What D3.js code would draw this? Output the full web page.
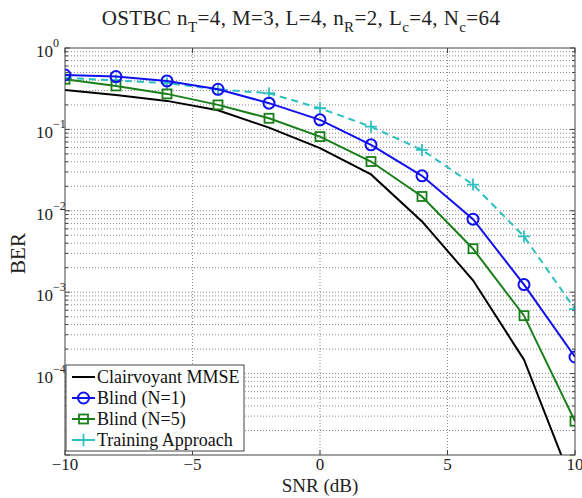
<!DOCTYPE html>
<html>
<head>
<meta charset="utf-8">
<script src="https://cdn.jsdelivr.net/npm/d3@7"></script>
<style>
  html, body { margin: 0; padding: 0; background: #fff; }
  svg { display: block; font-family: 'Liberation Serif', 'Times New Roman', serif; }
</style>
</head>
<body>
<div id="chart"></div>
<script>
// ---- data ----
const snr = [-10, -8, -6, -4, -2, 0, 2, 4, 6, 8, 10];
const clairvoyant = [0.305, 0.265, 0.224, 0.172, 0.105, 0.059, 0.028, 0.0074, 0.0014, 0.000148, 0.0000037];
const blind1 = [0.466, 0.445, 0.394, 0.311, 0.21, 0.131, 0.0646, 0.0269, 0.0079, 0.00124, 0.00016];
const blind5 = [0.413, 0.342, 0.273, 0.2, 0.137, 0.0816, 0.0403, 0.015, 0.00342, 0.000515, 0.000026];
const training = [0.43, 0.40, 0.37, 0.31, 0.278, 0.182, 0.108, 0.056, 0.021, 0.00484, 0.00062];
const xTicks = [-10, -5, 0, 5, 10];
const yExps = [0, -1, -2, -3, -4];
const seriesNames = ['Clairvoyant MMSE', 'Blind (N=1)', 'Blind (N=5)', 'Training Approach'];

const W = 582, H = 498;
const m = { left: 65, right: 7, top: 48, bottom: 43 };
const pw = W - m.left - m.right, ph = H - m.top - m.bottom;

const svg = d3.select('#chart').append('svg')
  .attr('width', W).attr('height', H);

const x = d3.scaleLinear().domain([-10, 10]).range([0, pw]);
const y = d3.scaleLog().domain([1e-5, 1]).range([ph, 0]);

const g = svg.append('g').attr('transform', `translate(${m.left},${m.top})`);

g.append('clipPath').attr('id', 'plotclip')
  .append('rect').attr('width', pw).attr('height', ph);

// ---- grid ----
const gridColor = '#8a8a8a';
const minorY = [];
for (let e = -5; e < 0; e++) for (let k = 2; k <= 9; k++) minorY.push(k * Math.pow(10, e));
const majorY = d3.range(-4, 0).map(e => Math.pow(10, e));

g.append('g').selectAll('line').data(minorY.concat(majorY)).join('line')
  .attr('x1', 0).attr('x2', pw)
  .attr('y1', d => y(d)).attr('y2', d => y(d))
  .attr('stroke', gridColor).attr('stroke-width', 1).attr('stroke-dasharray', '1,2');

g.append('g').selectAll('line').data([-5, 0, 5]).join('line')
  .attr('x1', d => x(d)).attr('x2', d => x(d))
  .attr('y1', 0).attr('y2', ph)
  .attr('stroke', gridColor).attr('stroke-width', 1).attr('stroke-dasharray', '1,2');

// ---- ticks (inside, both sides) ----
const tickColor = '#444';
const ticks = g.append('g').attr('stroke', tickColor).attr('stroke-width', 1);
xTicks.forEach(v => {
  ticks.append('line').attr('x1', x(v)).attr('x2', x(v)).attr('y1', ph).attr('y2', ph - 5);
  ticks.append('line').attr('x1', x(v)).attr('x2', x(v)).attr('y1', 0).attr('y2', 5);
});
majorY.concat([1e-5, 1]).forEach(v => {
  ticks.append('line').attr('x1', 0).attr('x2', 5).attr('y1', y(v)).attr('y2', y(v));
  ticks.append('line').attr('x1', pw).attr('x2', pw - 5).attr('y1', y(v)).attr('y2', y(v));
});
minorY.forEach(v => {
  ticks.append('line').attr('x1', 0).attr('x2', 3).attr('y1', y(v)).attr('y2', y(v));
  ticks.append('line').attr('x1', pw).attr('x2', pw - 3).attr('y1', y(v)).attr('y2', y(v));
});

// ---- tick labels ----
g.append('g').selectAll('text').data(xTicks).join('text')
  .attr('x', d => x(d)).attr('y', ph + 15)
  .attr('text-anchor', 'middle')
  .style('font-size', '17px').attr('fill', '#222')
  .text(d => d < 0 ? '\u2212' + Math.abs(d) : d);

const yl = g.append('g').selectAll('g').data(yExps).join('g')
  .attr('transform', d => `translate(-12,${y(Math.pow(10, d)) + 9})`);
yl.append('text').attr('text-anchor', 'end')
  .style('font-size', '17px').attr('fill', '#222').text('10');
yl.append('text').attr('x', 0).attr('y', -10)
  .style('font-size', '12px').attr('fill', '#222')
  .text(d => d === 0 ? '0' : '\u2212' + Math.abs(d));

// ---- lines ----
const line = d3.line().x(d => x(d[0])).y(d => y(d[1]));
const plot = g.append('g').attr('clip-path', 'url(#plotclip)');

const series = [
  { name: seriesNames[0], vals: clairvoyant, color: '#000000', dash: null, marker: null },
  { name: seriesNames[1], vals: blind1, color: '#1010f0', dash: null, marker: 'circle' },
  { name: seriesNames[2], vals: blind5, color: '#1a7f1a', dash: null, marker: 'square' },
  { name: seriesNames[3], vals: training, color: '#2cc0c0', dash: '7,5', marker: 'plus' },
];
// draw order: training first (beneath)
const drawOrder = [3, 0, 2, 1];

function drawMarker(sel, type, color) {
  if (type === 'circle') {
    sel.append('circle').attr('r', 5.5).attr('fill', 'none')
      .attr('stroke', color).attr('stroke-width', 2);
  } else if (type === 'square') {
    sel.append('rect').attr('x', -4.5).attr('y', -4.5).attr('width', 9).attr('height', 9)
      .attr('fill', 'none').attr('stroke', color).attr('stroke-width', 1.8);
  } else if (type === 'plus') {
    sel.append('path').attr('d', 'M-6,0H6M0,-6V6')
      .attr('stroke', color).attr('stroke-width', 1.8);
  }
}

drawOrder.forEach(i => {
  const s = series[i];
  const pts = snr.map((v, j) => [v, s.vals[j]]);
  plot.append('path').datum(pts)
    .attr('d', line).attr('fill', 'none')
    .attr('stroke', s.color).attr('stroke-width', 2)
    .attr('stroke-dasharray', s.dash);
  if (s.marker) {
    plot.append('g').selectAll('g').data(pts).join('g')
      .attr('transform', d => `translate(${x(d[0])},${y(d[1])})`)
      .each(function() { drawMarker(d3.select(this), s.marker, s.color); });
  }
});

// ---- axes box ----
g.append('rect').attr('width', pw).attr('height', ph)
  .attr('fill', 'none').attr('stroke', '#444').attr('stroke-width', 1);

// ---- legend ----
const lg = g.append('g').attr('transform', 'translate(1,317)');
lg.append('rect').attr('width', 178).attr('height', 86)
  .attr('fill', '#fff').attr('stroke', '#444').attr('stroke-width', 1);
series.forEach((s, i) => {
  const row = lg.append('g').attr('transform', `translate(0,${12 + i * 21})`);
  row.append('line').attr('x1', 6).attr('x2', 29).attr('y1', 0).attr('y2', 0)
    .attr('stroke', s.color).attr('stroke-width', 2);
  if (s.marker) {
    const mk = row.append('g').attr('transform', 'translate(17.5,0)');
    drawMarker(mk, s.marker, s.color);
  }
  row.append('text').attr('x', 31).attr('y', 6)
    .style('font-size', '18px').attr('fill', '#111').text(s.name);
});

// ---- title (subscripts via tspans) ----
const titleParts = [
  ['OSTBC n', false], ['T', true], ['=4, M=3, L=4, n', false], ['R', true],
  ['=2, L', false], ['c', true], ['=4, N', false], ['c', true], ['=64', false]
];
const title = svg.append('text').attr('x', 301).attr('y', 25)
  .attr('text-anchor', 'middle').style('font-size', '21px').attr('fill', '#222')
  .style('letter-spacing', '0.4px');
let prevSub = false;
titleParts.forEach(([t, sub]) => {
  const dy = sub ? 7 : (prevSub ? -7 : 0);
  title.append('tspan').text(t)
    .attr('dy', dy || null)
    .style('font-size', sub ? '15px' : null);
  prevSub = sub;
});

// ---- axis labels ----
svg.append('text').attr('x', m.left + pw / 2).attr('y', 492)
  .attr('text-anchor', 'middle').style('font-size', '19px').attr('fill', '#222')
  .text('SNR (dB)');
svg.append('text').attr('transform', `translate(25,${m.top + ph / 2 + 2}) rotate(-90)`)
  .attr('text-anchor', 'middle').style('font-size', '21px').attr('fill', '#222')
  .text('BER');
</script>
</body>
</html>
